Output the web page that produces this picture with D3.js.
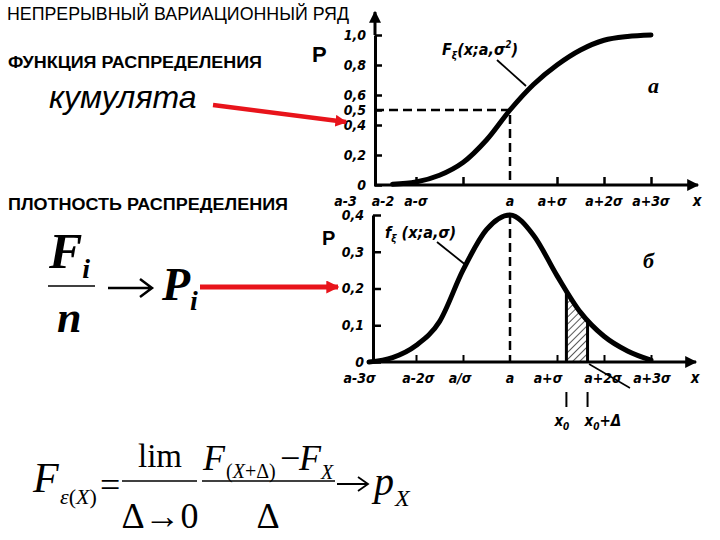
<!DOCTYPE html>
<html>
<head>
<meta charset="utf-8">
<script src="https://cdn.jsdelivr.net/npm/d3@7"></script>
<style>
  body { margin: 0; background: #fff; }
  svg { display: block; }
</style>
</head>
<body>
<div id="chart"></div>
<script>
// Values (x in units of sigma from a)
const sigmaSteps = [-3, -2.5, -2, -1.5, -1, -0.5, 0, 0.5, 1, 1.5, 2, 2.5, 3]
const cdfValues = [0, 0.005, 0.02, 0.065, 0.15, 0.3, 0.5, 0.67, 0.8, 0.9, 0.965, 0.99, 1.0]
const pdfValues = [0, 0.012, 0.045, 0.11, 0.25, 0.36, 0.4, 0.345, 0.235, 0.135, 0.07, 0.03, 0.005]

const cdfTicks = [0, 0.2, 0.4, 0.5, 0.6, 0.8, 1.0]
const cdfTickLabels = ['0', '0,2', '0,4', '0,5', '0,6', '0,8', '1,0']
const pdfTicks = [0, 0.1, 0.2, 0.3, 0.4]
const pdfTickLabels = ['0', '0,1', '0,2', '0,3', '0,4']

const xTickMarks = [-2, -1, 1, 2, 3]
const topXLabels = ['a-3', 'a-2', 'a-σ', 'a', 'a+σ', 'a+2σ', 'a+3σ']
const topXLabelPos = [-3.5, -2.7, -2.0, 0, 0.9, 2.0, 3.0]
const botXLabels = ['a-3σ', 'a-2σ', 'a/σ', 'a', 'a+σ', 'a+2σ', 'a+3σ']
const botXLabelPos = [-3.2, -1.95, -1.06, 0, 0.81, 1.98, 3.02]

const x0 = 1.2
const delta = 0.45

const WIDTH = 720
const HEIGHT = 540
const LABEL_FONT = '"DejaVu Sans Condensed", "DejaVu Sans", sans-serif'

const svg = d3.select('#chart')
    .append('svg')
    .attr('width', WIDTH)
    .attr('height', HEIGHT)
    .style('background', '#fff')

const defs = svg.append('defs')
defs.append('marker')
    .attr('id', 'blackArrow')
    .attr('viewBox', '0 0 10 10')
    .attr('refX', 9).attr('refY', 5)
    .attr('markerWidth', 5).attr('markerHeight', 4)
    .attr('markerUnits', 'strokeWidth')
    .attr('orient', 'auto')
    .append('path').attr('d', 'M0,0 L10,5 L0,10 z').attr('fill', '#000')
defs.append('marker')
    .attr('id', 'redArrow')
    .attr('viewBox', '0 0 10 10')
    .attr('refX', 9).attr('refY', 5)
    .attr('markerWidth', 2.6).attr('markerHeight', 2.6)
    .attr('markerUnits', 'strokeWidth')
    .attr('orient', 'auto')
    .append('path').attr('d', 'M0,0 L10,5 L0,10 z').attr('fill', '#e8141b')
defs.append('pattern')
    .attr('id', 'hatch')
    .attr('patternUnits', 'userSpaceOnUse')
    .attr('width', 5).attr('height', 5)
    .attr('patternTransform', 'rotate(45)')
    .append('line')
    .attr('x1', 0).attr('y1', 0).attr('x2', 0).attr('y2', 5)
    .attr('stroke', '#000').attr('stroke-width', 1.3)

// Scales
const xScale = d3.scaleLinear().domain([-3, 3]).range([369, 651])
const yTop = d3.scaleLinear().domain([0, 1]).range([185, 35])
const yBot = d3.scaleLinear().domain([0, 0.4]).range([362, 215])

const cdfData = sigmaSteps.map((s, i) => [s, cdfValues[i]])
const pdfData = sigmaSteps.map((s, i) => [s, pdfValues[i]])

// ---------- Top chart: cumulative distribution ----------
const topChart = svg.append('g')

const yAxisTop = d3.axisLeft(yTop)
    .tickValues(cdfTicks)
    .tickSize(-7)
    .tickSizeOuter(0)
    .tickPadding(9)
    .tickFormat((d, i) => cdfTickLabels[i])
topChart.append('g')
    .attr('transform', 'translate(375,0)')
    .call(yAxisTop)
    .call(g => g.select('.domain').attr('stroke-width', 3))
    .call(g => g.selectAll('.tick line').attr('stroke-width', 2.5))
    .call(g => g.selectAll('.tick text')
        .attr('font-family', LABEL_FONT).attr('font-weight', 'bold')
        .attr('font-style', 'italic').attr('font-size', 14).attr('fill', '#000'))
topChart.append('line')
    .attr('x1', 375).attr('x2', 375).attr('y1', yTop(1)).attr('y2', 12)
    .attr('stroke', '#000').attr('stroke-width', 3)
    .attr('marker-end', 'url(#blackArrow)')

const xAxisTop = d3.axisBottom(xScale)
    .tickValues(xTickMarks)
    .tickSize(-8)
    .tickSizeOuter(0)
    .tickFormat('')
topChart.append('g')
    .attr('transform', `translate(0,${yTop(0)})`)
    .call(xAxisTop)
    .call(g => g.select('.domain').remove())
    .call(g => g.selectAll('.tick line').attr('stroke-width', 2.5))
topChart.append('line')
    .attr('x1', 374).attr('x2', 698).attr('y1', yTop(0)).attr('y2', yTop(0))
    .attr('stroke', '#000').attr('stroke-width', 3)
    .attr('marker-end', 'url(#blackArrow)')

topChart.selectAll('text.xlab')
    .data(topXLabels)
    .enter()
    .append('text')
    .attr('class', 'xlab')
    .attr('x', (d, i) => xScale(topXLabelPos[i]))
    .attr('y', 206)
    .attr('text-anchor', 'middle')
    .attr('font-family', LABEL_FONT).attr('font-weight', 'bold')
    .attr('font-style', 'italic').attr('font-size', 14)
    .text(d => d)
topChart.append('text')
    .attr('x', 697).attr('y', 206).attr('text-anchor', 'middle')
    .attr('font-family', LABEL_FONT).attr('font-weight', 'bold')
    .attr('font-style', 'italic').attr('font-size', 15)
    .text('x')

// dashed guides at the median
topChart.append('path')
    .attr('d', `M375,${yTop(0.5)} H${xScale(0)} V${yTop(0)}`)
    .attr('fill', 'none').attr('stroke', '#000')
    .attr('stroke-width', 2.5).attr('stroke-dasharray', '9,5')

const cdfLine = d3.line()
    .x(d => xScale(d[0]))
    .y(d => yTop(d[1]))
    .curve(d3.curveCatmullRom)
topChart.append('path')
    .datum(cdfData.filter(d => d[0] >= -2.9))
    .attr('d', cdfLine)
    .attr('fill', 'none').attr('stroke', '#000').attr('stroke-width', 5)
    .attr('stroke-linecap', 'round')

// curve label and leader
topChart.append('line')
    .attr('x1', 497).attr('y1', 60).attr('x2', 526).attr('y2', 86)
    .attr('stroke', '#000').attr('stroke-width', 1.8)
const fTop = topChart.append('text')
    .attr('x', 442).attr('y', 55)
    .attr('font-family', LABEL_FONT).attr('font-weight', 'bold')
    .attr('font-style', 'italic').attr('font-size', 16)
fTop.append('tspan').text('F')
fTop.append('tspan').attr('font-size', 10).attr('dy', 4).text('ξ')
fTop.append('tspan').attr('dy', -4).text('(x;a,σ')
fTop.append('tspan').attr('font-size', 10).attr('dy', -7).text('2')
fTop.append('tspan').attr('dy', 7).text(')')
topChart.append('text')
    .attr('x', 648).attr('y', 93)
    .attr('font-family', '"Liberation Serif", serif').attr('font-weight', 'bold')
    .attr('font-style', 'italic').attr('font-size', 22)
    .text('a')

// ---------- Bottom chart: density ----------
const botChart = svg.append('g')

const yAxisBot = d3.axisLeft(yBot)
    .tickValues(pdfTicks)
    .tickSize(-8)
    .tickSizeOuter(0)
    .tickPadding(9)
    .tickFormat((d, i) => pdfTickLabels[i])
botChart.append('g')
    .attr('transform', 'translate(373,0)')
    .call(yAxisBot)
    .call(g => g.select('.domain').attr('stroke-width', 3))
    .call(g => g.selectAll('.tick line').attr('stroke-width', 2.5))
    .call(g => g.selectAll('.tick text')
        .attr('font-family', LABEL_FONT).attr('font-weight', 'bold')
        .attr('font-style', 'italic').attr('font-size', 14).attr('fill', '#000'))

const xAxisBot = d3.axisBottom(xScale)
    .tickValues(xTickMarks)
    .tickSize(-7)
    .tickSizeOuter(0)
    .tickFormat('')
botChart.append('g')
    .attr('transform', `translate(0,${yBot(0)})`)
    .call(xAxisBot)
    .call(g => g.select('.domain').remove())
    .call(g => g.selectAll('.tick line').attr('stroke-width', 2))
botChart.append('line')
    .attr('x1', 372).attr('x2', 696).attr('y1', yBot(0)).attr('y2', yBot(0))
    .attr('stroke', '#000').attr('stroke-width', 3)
    .attr('marker-end', 'url(#blackArrow)')

botChart.selectAll('text.xlab')
    .data(botXLabels)
    .enter()
    .append('text')
    .attr('class', 'xlab')
    .attr('x', (d, i) => xScale(botXLabelPos[i]))
    .attr('y', 383)
    .attr('text-anchor', 'middle')
    .attr('font-family', LABEL_FONT).attr('font-weight', 'bold')
    .attr('font-style', 'italic').attr('font-size', 14)
    .text(d => d)
botChart.append('text')
    .attr('x', 695).attr('y', 383).attr('text-anchor', 'middle')
    .attr('font-family', LABEL_FONT).attr('font-weight', 'bold')
    .attr('font-style', 'italic').attr('font-size', 15)
    .text('x')

botChart.append('line')
    .attr('x1', xScale(0)).attr('x2', xScale(0))
    .attr('y1', yBot(0.4)).attr('y2', yBot(0))
    .attr('stroke', '#000').attr('stroke-width', 2.5).attr('stroke-dasharray', '9,5')

const pdfArea = d3.area()
    .x(d => xScale(d[0]))
    .y0(yBot(0))
    .y1(d => yBot(d[1]))
    .curve(d3.curveMonotoneX)
const pdfLine = d3.line()
    .x(d => xScale(d[0]))
    .y(d => yBot(d[1]))
    .curve(d3.curveMonotoneX)

// hatched strip between x0 and x0 + delta
defs.append('clipPath').attr('id', 'stripClip')
    .append('rect')
    .attr('x', xScale(x0)).attr('y', 0)
    .attr('width', xScale(x0 + delta) - xScale(x0)).attr('height', HEIGHT)
defs.append('clipPath').attr('id', 'underCurve')
    .append('path').datum(pdfData).attr('d', pdfArea)
botChart.append('path')
    .datum(pdfData)
    .attr('d', pdfArea)
    .attr('fill', 'url(#hatch)')
    .attr('clip-path', 'url(#stripClip)')
botChart.selectAll('line.strip')
    .data([x0, x0 + delta])
    .enter()
    .append('line')
    .attr('class', 'strip')
    .attr('x1', d => xScale(d)).attr('x2', d => xScale(d))
    .attr('y1', yBot(0.4)).attr('y2', yBot(0))
    .attr('stroke', '#000').attr('stroke-width', 3)
    .attr('clip-path', 'url(#underCurve)')

botChart.append('path')
    .datum(pdfData)
    .attr('d', pdfLine)
    .attr('fill', 'none').attr('stroke', '#000').attr('stroke-width', 5)
    .attr('stroke-linecap', 'round')

// x0 markers below axis
botChart.selectAll('line.x0mark')
    .data([x0, x0 + delta])
    .enter()
    .append('line')
    .attr('class', 'x0mark')
    .attr('x1', d => xScale(d)).attr('x2', d => xScale(d))
    .attr('y1', 392).attr('y2', 407)
    .attr('stroke', '#000').attr('stroke-width', 2)
const x0Text = botChart.append('text')
    .attr('x', xScale(x0) - 12).attr('y', 426)
    .attr('font-family', LABEL_FONT).attr('font-weight', 'bold')
    .attr('font-style', 'italic').attr('font-size', 15)
x0Text.append('tspan').text('x')
x0Text.append('tspan').attr('font-size', 10).attr('dy', 4).text('0')
const x1Text = botChart.append('text')
    .attr('x', xScale(x0 + delta) - 3).attr('y', 426)
    .attr('font-family', LABEL_FONT).attr('font-weight', 'bold')
    .attr('font-style', 'italic').attr('font-size', 15)
x1Text.append('tspan').text('x')
x1Text.append('tspan').attr('font-size', 10).attr('dy', 4).text('0')
x1Text.append('tspan').attr('dy', -4).text('+Δ')

// leader lines
botChart.append('line')
    .attr('x1', 437).attr('y1', 242).attr('x2', 467).attr('y2', 266)
    .attr('stroke', '#000').attr('stroke-width', 1.8)
botChart.append('line')
    .attr('x1', 589).attr('y1', 364).attr('x2', 630).attr('y2', 388)
    .attr('stroke', '#000').attr('stroke-width', 1.5)
const fBot = botChart.append('text')
    .attr('x', 385).attr('y', 238)
    .attr('font-family', LABEL_FONT).attr('font-weight', 'bold')
    .attr('font-style', 'italic').attr('font-size', 16)
fBot.append('tspan').text('f')
fBot.append('tspan').attr('font-size', 10).attr('dy', 4).text('ξ')
fBot.append('tspan').attr('dy', -4).text(' (x;a,σ)')
botChart.append('text')
    .attr('x', 643).attr('y', 268)
    .attr('font-family', '"Liberation Serif", serif').attr('font-weight', 'bold')
    .attr('font-style', 'italic').attr('font-size', 22)
    .text('б')

// ---------- Left panel texts ----------
const leftPanel = svg.append('g').attr('font-family', '"Liberation Sans", Arial, sans-serif')
leftPanel.append('text')
    .attr('x', 7).attr('y', 20).attr('font-size', 18)
    .attr('textLength', 342).attr('lengthAdjust', 'spacingAndGlyphs')
    .text('НЕПРЕРЫВНЫЙ ВАРИАЦИОННЫЙ РЯД')
leftPanel.append('text')
    .attr('x', 8).attr('y', 68).attr('font-size', 16).attr('font-weight', 'bold')
    .attr('textLength', 254).attr('lengthAdjust', 'spacingAndGlyphs')
    .text('ФУНКЦИЯ РАСПРЕДЕЛЕНИЯ')
leftPanel.append('text')
    .attr('x', 49).attr('y', 108).attr('font-size', 32).attr('font-style', 'italic')
    .text('кумулята')
leftPanel.append('text')
    .attr('x', 8).attr('y', 210).attr('font-size', 16).attr('font-weight', 'bold')
    .attr('textLength', 280).attr('lengthAdjust', 'spacingAndGlyphs')
    .text('ПЛОТНОСТЬ РАСПРЕДЕЛЕНИЯ')
leftPanel.append('text')
    .attr('x', 312).attr('y', 62).attr('font-size', 22).attr('font-weight', 'bold')
    .text('P')
leftPanel.append('text')
    .attr('x', 322).attr('y', 245).attr('font-size', 20).attr('font-weight', 'bold')
    .text('P')

// red arrows
svg.append('line')
    .attr('x1', 213).attr('y1', 105).attr('x2', 346).attr('y2', 122)
    .attr('stroke', '#e8141b').attr('stroke-width', 4.5)
    .attr('marker-end', 'url(#redArrow)')
svg.append('line')
    .attr('x1', 200).attr('y1', 287).attr('x2', 338).attr('y2', 287)
    .attr('stroke', '#e8141b').attr('stroke-width', 5)
    .attr('marker-end', 'url(#redArrow)')

// Fi / n -> Pi
const serif = '"Liberation Serif", "Times New Roman", serif'
const math = svg.append('g').attr('font-family', serif).attr('font-weight', 'bold').attr('font-style', 'italic')
const fi = math.append('text').attr('x', 49).attr('y', 268).attr('font-size', 50)
fi.append('tspan').text('F')
fi.append('tspan').attr('font-size', 28).attr('dy', 10).text('i')
math.append('line')
    .attr('x1', 48).attr('x2', 95).attr('y1', 286).attr('y2', 286)
    .attr('stroke', '#000').attr('stroke-width', 1.5)
math.append('text').attr('x', 57).attr('y', 332).attr('font-size', 44).text('n')
svg.append('path')
    .attr('d', 'M108,288 H151 M140,279 L152,288 L140,297')
    .attr('fill', 'none').attr('stroke', '#000').attr('stroke-width', 2.5)
const pi = math.append('text').attr('x', 162).attr('y', 300).attr('font-size', 46)
pi.append('tspan').text('P')
pi.append('tspan').attr('font-size', 28).attr('dy', 10).text('i')

// bottom formula
const formula = svg.append('g').attr('font-family', serif)
formula.append('text').attr('x', 33).attr('y', 492).attr('font-size', 42).attr('font-style', 'italic').text('F')
const lhsSub = formula.append('text').attr('x', 60).attr('y', 504).attr('font-size', 22)
lhsSub.append('tspan').attr('font-style', 'italic').text('ε')
lhsSub.append('tspan').text('(')
lhsSub.append('tspan').attr('font-style', 'italic').text('X')
lhsSub.append('tspan').text(')')
formula.append('text').attr('x', 100).attr('y', 497).attr('font-size', 36).text('=')
formula.append('text').attr('x', 160).attr('y', 467).attr('font-size', 33).attr('text-anchor', 'middle').text('lim')
formula.append('line').attr('x1', 122).attr('x2', 197).attr('y1', 481).attr('y2', 481)
    .attr('stroke', '#000').attr('stroke-width', 1.5)
formula.append('text').attr('x', 160).attr('y', 528).attr('font-size', 36).attr('text-anchor', 'middle').text('Δ→0')
formula.append('text').attr('x', 203).attr('y', 470).attr('font-size', 36).attr('font-style', 'italic').text('F')
const numSub = formula.append('text').attr('x', 226).attr('y', 478).attr('font-size', 20)
numSub.append('tspan').text('(')
numSub.append('tspan').attr('font-style', 'italic').text('X')
numSub.append('tspan').text('+Δ)')
formula.append('text').attr('x', 280).attr('y', 470).attr('font-size', 36).text('−')
formula.append('text').attr('x', 299).attr('y', 470).attr('font-size', 36).attr('font-style', 'italic').text('F')
formula.append('text').attr('x', 321).attr('y', 479).attr('font-size', 20).attr('font-style', 'italic').text('X')
formula.append('line').attr('x1', 202).attr('x2', 335).attr('y1', 481).attr('y2', 481)
    .attr('stroke', '#000').attr('stroke-width', 1.5)
formula.append('text').attr('x', 268).attr('y', 528).attr('font-size', 36).attr('text-anchor', 'middle').text('Δ')
formula.append('path')
    .attr('d', 'M337,484 H367 M358,477 L368,484 L358,491')
    .attr('fill', 'none').attr('stroke', '#000').attr('stroke-width', 1.8)
formula.append('text').attr('x', 374).attr('y', 495).attr('font-size', 40).attr('font-style', 'italic').text('p')
formula.append('text').attr('x', 395).attr('y', 506).attr('font-size', 24).attr('font-style', 'italic').text('X')
</script>
</body>
</html>
